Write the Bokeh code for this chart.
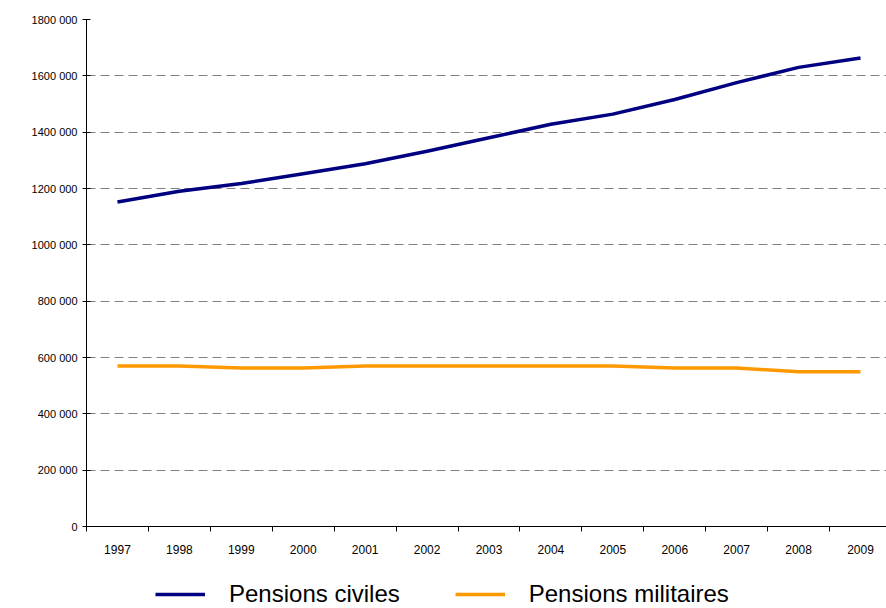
from bokeh.plotting import figure
from bokeh.models import Range1d, FixedTicker, Legend, LegendItem
from bokeh.layouts import column
from bokeh.embed import file_html
from bokeh.resources import INLINE

years = ["1997", "1998", "1999", "2000", "2001", "2002", "2003",
         "2004", "2005", "2006", "2007", "2008", "2009"]
pensions_civiles = [1152000, 1190000, 1218000, 1252000, 1288000, 1332000, 1380000,
                    1428000, 1464000, 1516000, 1576000, 1630000, 1663000]
pensions_militaires = [570000, 570000, 563000, 563000, 570000, 570000, 570000,
                       570000, 570000, 563000, 563000, 549000, 549000]
y_ticks = [0, 200000, 400000, 600000, 800000, 1000000, 1200000, 1400000, 1600000, 1800000]
y_tick_labels = ["0", "200 000", "400 000", "600 000", "800 000", "1000 000",
                 "1200 000", "1400 000", "1600 000", "1800 000"]
series_names = ["Pensions civiles", "Pensions militaires"]
series_colors = ["#000080", "#FF9900"]

FONT = "Liberation Sans, Arial, sans-serif"

xs = [i + 0.5 for i in range(len(years))]

p = figure(width=886, height=560, output_backend="svg", toolbar_location=None,
           x_range=Range1d(0, 12.92), y_range=Range1d(0, 1800000),
           min_border_left=86, min_border_right=0, min_border_top=19, min_border_bottom=34)
p.outline_line_color = None
p.background_fill_color = "white"
p.border_fill_color = "white"

p.line(xs, pensions_civiles, line_color=series_colors[0], line_width=3.5, line_join="round")
p.line(xs, pensions_militaires, line_color=series_colors[1], line_width=3.5, line_join="round")

# x axis
xa = p.xaxis[0]
xa.ticker = FixedTicker(ticks=xs, minor_ticks=list(range(len(years) + 1)))
xa.major_label_overrides = {x: y for x, y in zip(xs, years)}
xa.major_tick_out = 0
xa.major_tick_in = 0
xa.minor_tick_out = 5
xa.minor_tick_in = 0
xa.minor_tick_line_color = "black"
xa.axis_line_color = "black"
xa.major_label_standoff = 13
xa.major_label_text_font = FONT
xa.major_label_text_font_size = "12px"
xa.major_label_text_color = "black"

# y axis
ya = p.yaxis[0]
ya.ticker = FixedTicker(ticks=y_ticks, minor_ticks=[])
ya.major_label_overrides = {t: l for t, l in zip(y_ticks, y_tick_labels)}
ya.major_tick_out = 4
ya.major_tick_in = 4
ya.major_tick_line_color = "black"
ya.axis_line_color = "black"
ya.major_label_standoff = 5
ya.major_label_text_font = FONT
ya.major_label_text_font_size = "11px"
ya.major_label_text_color = "black"

p.xgrid.grid_line_color = None
p.ygrid.ticker = FixedTicker(ticks=y_ticks[1:])
p.ygrid.grid_line_color = "#808080"
p.ygrid.grid_line_dash = "9 5"
p.ygrid.grid_line_width = 1

# legend strip below the chart (same series drawn out of view, only used as legend keys)
lg = figure(width=886, height=48, output_backend="svg", toolbar_location=None,
            x_range=Range1d(0, 12.92), y_range=Range1d(0, 1),
            x_axis_type=None, y_axis_type=None,
            min_border_left=86, min_border_right=0, min_border_top=0, min_border_bottom=0)
lg.outline_line_color = None
lg.xgrid.visible = False
lg.ygrid.visible = False
k1 = lg.line(xs, pensions_civiles, line_color=series_colors[0], line_width=3.5)
k2 = lg.line(xs, pensions_militaires, line_color=series_colors[1], line_width=3.5)

legend = Legend(items=[LegendItem(label=series_names[0], renderers=[k1]),
                       LegendItem(label=series_names[1], renderers=[k2])],
                orientation="horizontal", location=(69, 0),
                padding=0, margin=0, spacing=55, label_standoff=24,
                glyph_width=50, glyph_height=20,
                border_line_color=None, background_fill_alpha=0,
                label_text_font=FONT, label_text_font_size="24px",
                label_text_color="black")
lg.add_layout(legend, "center")

open("out.html", "w").write(file_html(column(p, lg, spacing=0), INLINE))
